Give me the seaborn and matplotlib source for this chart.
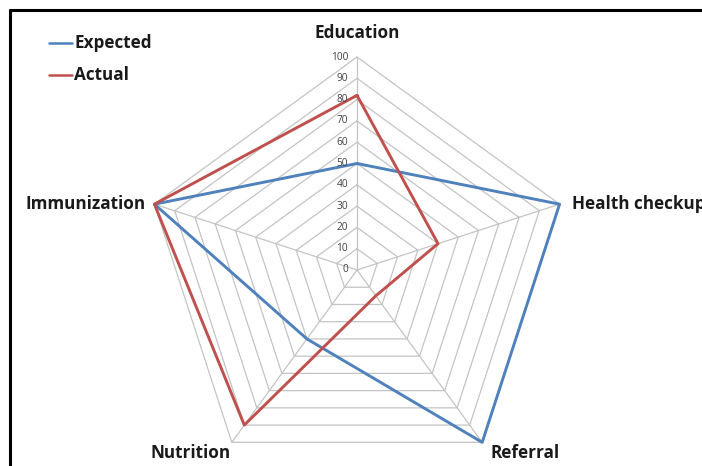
import numpy as np
import pandas as pd
import matplotlib
matplotlib.use('Agg')
import matplotlib.pyplot as plt
import seaborn as sns

# data ---------------------------------
categories = ['Education', 'Health checkup', 'Referral', 'Nutrition', 'Immunization']
expected = [50, 100, 100, 40, 100]
actual = [82, 40, 15, 90, 100]
levels = list(range(0, 101, 10))
# --------------------------------------

sns.set_theme(style='white')
plt.rcParams['font.family'] = ['Open Sans', 'DejaVu Sans']

W, H, dpi = 702, 466, 100
cx, cy, R = 357, 270, 213  # centre and radius in pixels

fig = plt.figure(figsize=(W / dpi, H / dpi), dpi=dpi)
ax = fig.add_axes([0, 0, 1, 1])
ax.set_xlim(-cx / R, (W - cx) / R)
ax.set_ylim(-(H - cy) / R, cy / R)
ax.set_axis_off()

n = len(categories)
angles = np.pi / 2 - np.arange(n) * 2 * np.pi / n


def to_xy(vals):
    v = np.asarray(vals, dtype=float) / 100.0
    v = np.append(v, v[0])
    a = np.append(angles, angles[0])
    return v * np.cos(a), v * np.sin(a)


# grid polygons and spokes
for lv in levels[1:]:
    gx, gy = to_xy([lv] * n)
    ax.plot(gx, gy, color='#c4c4c4', lw=0.9, zorder=1)
for a in angles:
    ax.plot([0, np.cos(a)], [0, np.sin(a)], color='#c4c4c4', lw=0.9, zorder=1)

# series
rows = []
for name, vals in [('Expected', expected), ('Actual', actual)]:
    xs, ys = to_xy(vals)
    for i, (x, y) in enumerate(zip(xs, ys)):
        rows.append({'series': name, 'order': i, 'x': x, 'y': y})
df = pd.DataFrame(rows)
palette = {'Expected': '#4f81bd', 'Actual': '#c0504d'}
sns.lineplot(data=df, x='x', y='y', hue='series', units='series', estimator=None,
             sort=False, palette=palette, lw=2.1, ax=ax, legend=False, zorder=3)

# radial tick labels
for lv in levels:
    ax.text(-9 / R, lv / 100.0, str(lv), ha='right', va='center',
            fontsize=7.3, color='#404040')

# category labels
bold = dict(fontsize=12.3, fontweight='bold', color='#1a1a1a')
ax.text(0, 1 + 24 / R, categories[0], ha='center', va='center', **bold)
ax.text(np.cos(angles[1]) + 12 / R, np.sin(angles[1]), categories[1], ha='left', va='center', **bold)
ax.text(np.cos(angles[2]) + 8 / R, np.sin(angles[2]) - 11 / R, categories[2], ha='left', va='center', **bold)
ax.text(np.cos(angles[3]) - 1 / R, np.sin(angles[3]) - 11 / R, categories[3], ha='right', va='center', **bold)
ax.text(np.cos(angles[4]) - 9 / R, np.sin(angles[4]), categories[4], ha='right', va='center', **bold)

# legend
leg_y = [(cy - 43) / R, (cy - 75) / R]
for (name, col), ly in zip(palette.items(), leg_y):
    ax.plot([(49 - cx) / R, (72 - cx) / R], [ly, ly], color=col, lw=1.8)
    ax.text((74 - cx) / R, ly, name, ha='left', va='center', **bold)

# frame (only top and left edges fall inside the picture)
fig.add_artist(plt.Line2D([9.5 / W, 1], [1 - 10 / H, 1 - 10 / H], color='black', lw=2.2))
fig.add_artist(plt.Line2D([9.5 / W, 9.5 / W], [0, 1 - 10 / H], color='black', lw=2.2))

fig.savefig('out.png', dpi=dpi)
